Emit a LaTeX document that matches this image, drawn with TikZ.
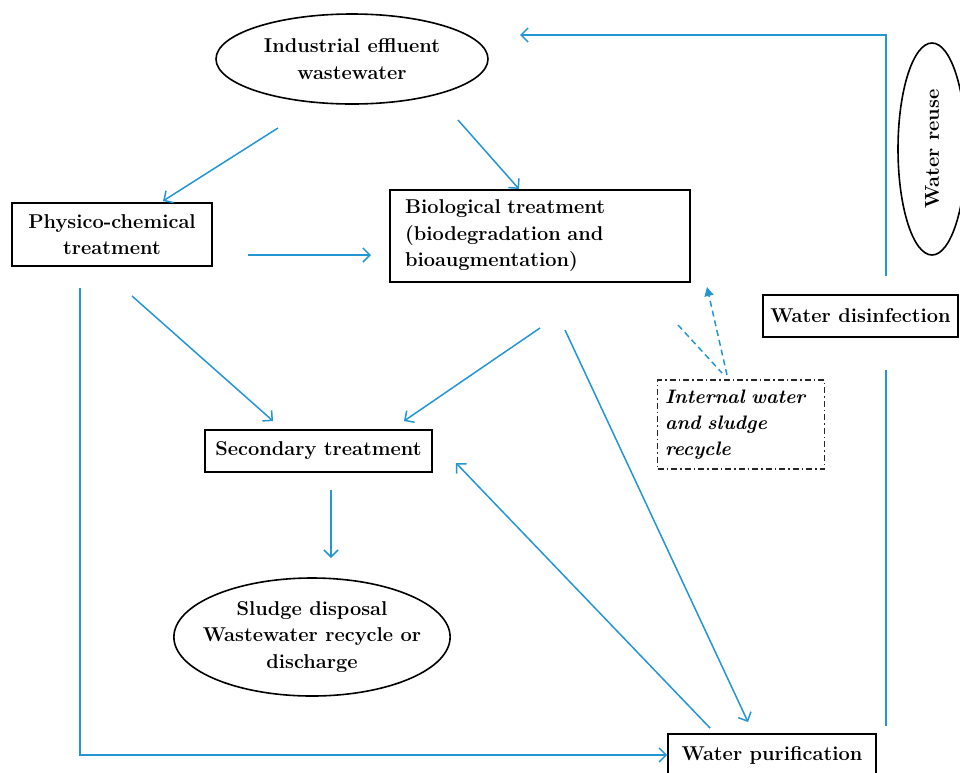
\documentclass[tikz,border=0pt]{standalone}
\usetikzlibrary{arrows.meta,shapes.geometric}
\definecolor{flow}{RGB}{35,150,212}
\begin{document}
\begin{tikzpicture}[x=1pt,y=-1pt,
  box/.style={draw=black,line width=1.6pt,rectangle,inner sep=2pt,font=\fontsize{20}{26.5}\selectfont\bfseries,align=center},
  ell/.style={draw=black,line width=1.6pt,ellipse,inner sep=0pt,font=\fontsize{20}{26.5}\selectfont\bfseries,align=center},
  arr/.style={draw=flow,line width=1.5pt,-{Straight Barb[length=7pt,width=14pt]}},
  ln/.style={draw=flow,line width=1.5pt},
  dsh/.style={draw=flow,line width=1.5pt,dash pattern=on 6pt off 4pt}]
\useasboundingbox (0,0) rectangle (960,772);
\fill[white] (0,0) rectangle (960,772);
% nodes
\node[ell,minimum width=272,minimum height=90] (ind) at (352,59) {Industrial effluent\\wastewater};
\node[box,minimum width=200,minimum height=63] (phys) at (112,234.5) {Physico-chemical\\treatment};
\node[box,minimum width=300,minimum height=92,align=left,text width=270] (bio) at (540,236) {Biological treatment\\(biodegradation and\\bioaugmentation)};
\node[box,minimum width=195,minimum height=42] (dis) at (860.5,316) {Water disinfection};
\node[ell,minimum width=68,minimum height=212] (reuse) at (932,149) {\rotatebox{90}{Water reuse}};
\node[box,draw=black!85,line width=1.3pt,dash pattern=on 6pt off 3pt on 1.5pt off 3pt,minimum width=167,minimum height=89,align=left,text width=152,font=\fontsize{19.5}{26}\selectfont\bfseries\itshape] (int) at (741,424.5) {Internal water\\and sludge\\recycle};
\node[box,minimum width=227,minimum height=42] (sec) at (318.5,451) {Secondary treatment};
\node[ell,inner xsep=-11.5pt,minimum width=276,minimum height=118] (sl) at (312,637) {Sludge disposal\\Wastewater recycle or\\discharge};
\node[box,minimum width=208,minimum height=42] (pur) at (772,755) {Water purification};
% coordinates
\coordinate (a1) at (278,128); \coordinate (a1e) at (163,201);
\coordinate (a2) at (458,120); \coordinate (a2e) at (519,189);
\coordinate (a3) at (248,255); \coordinate (a3e) at (371,255);
\coordinate (a4) at (132,296); \coordinate (a4e) at (273,421);
\coordinate (a5) at (540,328); \coordinate (a5e) at (404,421);
\coordinate (a6) at (565,330); \coordinate (a6e) at (748,722);
\coordinate (a7) at (710,728); \coordinate (a7e) at (456,463);
\coordinate (a8) at (331,490); \coordinate (a8e) at (331,558);
\coordinate (a9) at (80,288);
\coordinate (r1) at (886,726); \coordinate (r2) at (886,370);
\coordinate (r3) at (886,276); \coordinate (r4) at (886,35); \coordinate (r5) at (520,35);
\coordinate (d1) at (727,375); \coordinate (d1e) at (707,287);
\coordinate (d2) at (678,325); \coordinate (d2e) at (722,373);
% connectors
\draw[arr] (a1) -- (a1e);
\draw[arr] (a2) -- (a2e);
\draw[arr] (a3) -- (a3e);
\draw[arr] (a4) -- (a4e);
\draw[arr] (a5) -- (a5e);
\draw[arr] (a6) -- (a6e);
\draw[arr] (a7) -- (a7e);
\draw[arr] (a8) -- (a8e);
\draw[arr] (a9) |- (pur.west);
\draw[ln] (r1) -- (r2);
\draw[arr] (r3) -- (r4) -- (r5);
\draw[dsh,-{Triangle[length=9pt,width=9pt]}] (d1) -- (d1e);
\draw[dsh] (d2) -- (d2e);
\end{tikzpicture}
\end{document}
